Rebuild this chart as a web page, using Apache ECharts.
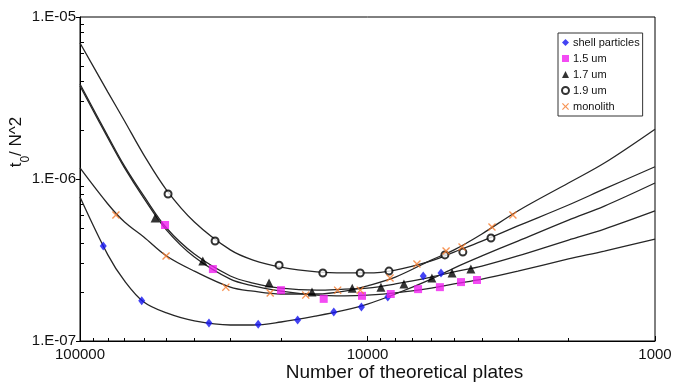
<!DOCTYPE html>
<html>
<head>
<meta charset="utf-8">
<script src="https://cdn.jsdelivr.net/npm/echarts@6/dist/echarts.min.js"></script>
<style>
  html, body { margin: 0; padding: 0; background: #fff; }
  #chart { width: 678px; height: 384px; }
</style>
</head>
<body>
<div id="chart"></div>
<script>
// fitted curves at these plate counts
const curveN = [100000, 80000, 70000, 60000, 50000, 40000, 30000, 25000, 20000, 15000, 12000, 10000, 8000, 6000, 5000, 4000, 3000, 2000, 1500, 1000];
const fitShell = [7.74e-7, 3.40e-7, 2.35e-7, 1.74e-7, 1.49e-7, 1.33e-7, 1.255e-7, 1.255e-7, 1.31e-7, 1.43e-7, 1.55e-7, 1.69e-7, 1.95e-7, 2.41e-7, 2.82e-7, 3.35e-7, 4.14e-7, 5.58e-7, 6.81e-7, 9.45e-7];
const fit15 = [3.75e-6, 1.79e-6, 1.17e-6, 7.63e-7, 4.84e-7, 3.30e-7, 2.41e-7, 2.19e-7, 2.03e-7, 1.92e-7, 1.90e-7, 1.92e-7, 1.98e-7, 2.12e-7, 2.25e-7, 2.41e-7, 2.70e-7, 3.21e-7, 3.59e-7, 4.26e-7];
const fit17 = [3.86e-6, 1.84e-6, 1.20e-6, 7.86e-7, 4.98e-7, 3.44e-7, 2.52e-7, 2.28e-7, 2.12e-7, 2.06e-7, 2.09e-7, 2.12e-7, 2.25e-7, 2.48e-7, 2.67e-7, 2.90e-7, 3.35e-7, 4.20e-7, 4.91e-7, 6.35e-7];
const fit19 = [6.91e-6, 3.44e-6, 2.28e-6, 1.41e-6, 8.55e-7, 5.43e-7, 3.65e-7, 3.16e-7, 2.86e-7, 2.67e-7, 2.63e-7, 2.63e-7, 2.74e-7, 3.12e-7, 3.54e-7, 4.14e-7, 5.13e-7, 6.91e-7, 8.68e-7, 1.19e-6];
const fitMono = [1.17e-6, 7.01e-7, 5.43e-7, 4.39e-7, 3.35e-7, 2.70e-7, 2.15e-7, 2.03e-7, 1.95e-7, 1.95e-7, 2.03e-7, 2.19e-7, 2.48e-7, 3.16e-7, 3.65e-7, 4.58e-7, 6.35e-7, 9.45e-7, 1.255e-6, 2.03e-6];

// measured points
const shellN = [83000, 61000, 35600, 24000, 17500, 13100, 10500, 8500, 6400, 5550];
const shellV = [3.86e-7, 1.77e-7, 1.29e-7, 1.27e-7, 1.35e-7, 1.51e-7, 1.62e-7, 1.87e-7, 2.52e-7, 2.63e-7];
const um15N = [50600, 34500, 20000, 14200, 10450, 8300, 6670, 5600, 4730, 4160];
const um15V = [5.20e-7, 2.78e-7, 2.06e-7, 1.82e-7, 1.90e-7, 1.95e-7, 2.09e-7, 2.15e-7, 2.31e-7, 2.38e-7];
const um17N = [54800, 37400, 22000, 15600, 11300, 8980, 7470, 5970, 5080, 4370];
const um17V = [5.74e-7, 3.12e-7, 2.28e-7, 2.01e-7, 2.12e-7, 2.15e-7, 2.25e-7, 2.45e-7, 2.63e-7, 2.78e-7];
const um19N = [49400, 33900, 20300, 14300, 10600, 8420, 5380, 4660, 3720];
const um19V = [8.08e-7, 4.14e-7, 2.94e-7, 2.63e-7, 2.63e-7, 2.70e-7, 3.40e-7, 3.54e-7, 4.32e-7];
const monoN = [75000, 50200, 31100, 21800, 16400, 12700, 10600, 8350, 6730, 5330, 4690, 3690, 3120];
const monoV = [6.00e-7, 3.35e-7, 2.15e-7, 1.98e-7, 1.92e-7, 2.06e-7, 2.06e-7, 2.45e-7, 2.99e-7, 3.59e-7, 3.80e-7, 5.05e-7, 6.00e-7];

const seriesNames = ["shell particles", "1.5 um", "1.7 um", "1.9 um", "monolith"];

// axes
const xTickValues = [100000, 10000, 1000];
const xTickLabels = ["100000", "10000", "1000"];
const xMinorTicks = [2000, 3000, 4000, 5000, 6000, 7000, 8000, 9000, 20000, 30000, 40000, 50000, 60000, 70000, 80000, 90000];
const yTickValues = [1e-7, 1e-6, 1e-5];
const yTickLabels = ["1.E-07", "1.E-06", "1.E-05"];
const yMinorTicks = [2e-7, 3e-7, 4e-7, 5e-7, 6e-7, 7e-7, 8e-7, 9e-7, 2e-6, 3e-6, 4e-6, 5e-6, 6e-6, 7e-6, 8e-6, 9e-6];

const font = "Liberation Sans, Arial, sans-serif";
const pairs = (xs, ys) => xs.map((x, i) => [x, ys[i]]);
const labelFor = (values, labels) => (v) => {
  const e = Math.round(Math.log10(v));
  const i = values.findIndex((t) => Math.round(Math.log10(t)) === e);
  return i < 0 ? "" : labels[i];
};
const crossPath = "path://M0,1.2L1.2,0L5,3.8L8.8,0L10,1.2L6.2,5L10,8.8L8.8,10L5,6.2L1.2,10L0,8.8L3.8,5Z";

const fitLine = (data) => ({
  type: "line",
  data: pairs(curveN, data),
  showSymbol: false,
  smooth: 0.35,
  silent: true,
  lineStyle: { color: "#262626", width: 1.3 },
  z: 2,
});

const chart = echarts.init(document.getElementById("chart"));
chart.setOption({
  animation: false,
  backgroundColor: "#fff",
  textStyle: { fontFamily: font },
  grid: {
    left: 80, right: 23, top: 17, bottom: 43,
    outerBoundsMode: "none",
    show: true, borderColor: "#000", borderWidth: 1,
  },
  legend: {
    data: seriesNames,
    orient: "vertical",
    left: 558,
    top: 33,
    padding: [4, 3, 4, 3],
    itemGap: 5,
    itemWidth: 7,
    itemHeight: 7,
    backgroundColor: "#fff",
    borderColor: "#333",
    borderWidth: 1,
    textStyle: { fontSize: 11, color: "#111", fontFamily: font, padding: [0, 0, 0, -1] },
  },
  xAxis: [
    {
      type: "log",
      logBase: 10,
      inverse: true,
      min: 1000,
      max: 100000,
      name: "Number of theoretical plates",
      nameLocation: "middle",
      nameGap: 22,
      nameMoveOverlap: false,
      nameTextStyle: { fontSize: 19, color: "#111", fontFamily: font, padding: [0, 0, 0, 74] },
      axisLine: { lineStyle: { color: "#000", width: 1 } },
      axisTick: { inside: true, length: 5, lineStyle: { color: "#000" } },
      axisLabel: { fontSize: 15, color: "#111", margin: 6, formatter: labelFor(xTickValues, xTickLabels) },
      splitLine: { show: false },
    },
    {
      type: "log",
      logBase: 10,
      inverse: true,
      min: 1000,
      max: 100000,
      position: "bottom",
      axisLine: { show: false },
      axisLabel: { show: false },
      axisTick: { inside: true, length: 3, customValues: xMinorTicks, lineStyle: { color: "#000" } },
      splitLine: { show: false },
    },
  ],
  yAxis: [
    {
      type: "log",
      logBase: 10,
      min: 1e-7,
      max: 1e-5,
      name: "{t|t}{s|0}{t|/ N^2}",
      nameLocation: "middle",
      nameGap: 48,
      nameMoveOverlap: false,
      nameTextStyle: {
        color: "#111",
        padding: [0, 0, 0, 74],
        rich: {
          t: { fontSize: 17, fontFamily: font, color: "#111", lineHeight: 24, verticalAlign: "top" },
          s: { fontSize: 12, fontFamily: font, color: "#111", lineHeight: 12, verticalAlign: "bottom" },
        },
      },
      axisLine: { show: true, lineStyle: { color: "#000", width: 1 } },
      axisTick: { show: true, inside: false, length: 4, lineStyle: { color: "#000" } },
      axisLabel: { fontSize: 15, color: "#111", margin: 4, formatter: labelFor(yTickValues, yTickLabels) },
      splitLine: { show: false },
    },
    {
      type: "log",
      logBase: 10,
      min: 1e-7,
      max: 1e-5,
      position: "left",
      axisLine: { show: false },
      axisLabel: { show: false },
      axisTick: { show: true, inside: true, length: 4, customValues: yMinorTicks, lineStyle: { color: "#000" } },
      splitLine: { show: false },
    },
  ],
  series: [
    fitLine(fitShell),
    fitLine(fit15),
    fitLine(fit17),
    fitLine(fit19),
    fitLine(fitMono),
    {
      type: "scatter",
      name: seriesNames[0],
      symbol: "diamond",
      symbolSize: [7, 9],
      itemStyle: { color: "#1414f0" },
      data: pairs(shellN, shellV),
      z: 3,
    },
    {
      type: "scatter",
      name: seriesNames[1],
      symbol: "rect",
      symbolSize: 8,
      itemStyle: { color: "#f01ef0" },
      data: pairs(um15N, um15V),
      z: 3,
    },
    {
      type: "scatter",
      name: seriesNames[2],
      symbol: "triangle",
      symbolSize: 9,
      itemStyle: { color: "#000" },
      data: pairs(um17N, um17V),
      z: 3,
    },
    {
      type: "scatter",
      name: seriesNames[3],
      symbol: "emptyCircle",
      symbolSize: 7,
      itemStyle: { color: "#000", borderColor: "#000", borderWidth: 1.2 },
      data: pairs(um19N, um19V),
      z: 3,
    },
    {
      type: "scatter",
      name: seriesNames[4],
      symbol: crossPath,
      symbolSize: 8,
      itemStyle: { color: "#f5792a" },
      data: pairs(monoN, monoV),
      z: 3,
    },
  ],
});
</script>
</body>
</html>
